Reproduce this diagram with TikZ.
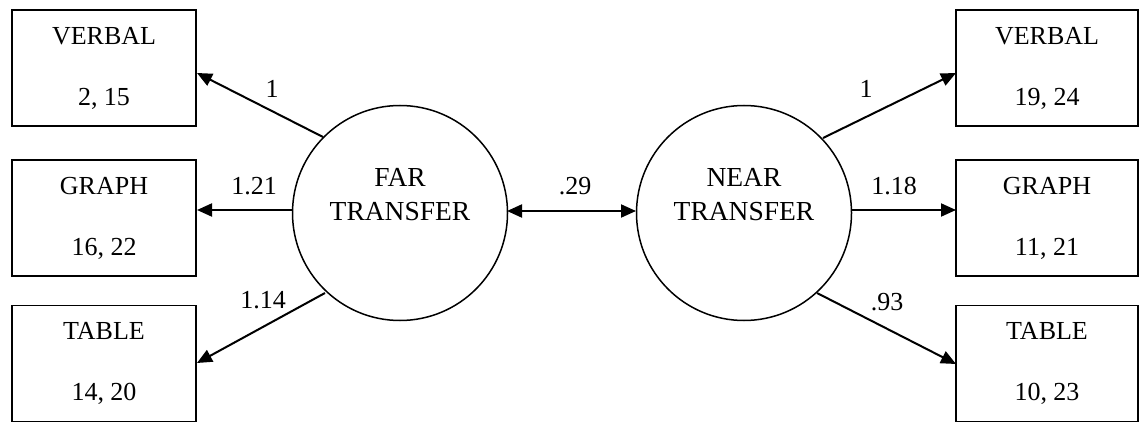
\documentclass[tikz,border=0pt]{standalone}
\usepackage{fontspec}
\setmainfont{Liberation Serif}
\usetikzlibrary{arrows.meta}
\begin{document}
\begin{tikzpicture}[x=1pt,y=-1pt,
  obsbox/.style={draw,line width=1.5pt,minimum width=184pt,minimum height=116pt,inner sep=0pt,
    align=center,font=\fontsize{26}{61}\selectfont},
  latent/.style={draw,circle,line width=1.5pt,minimum size=215pt,inner sep=0pt},
  ltxt/.style={align=center,font=\fontsize{27.5}{34}\selectfont,inner sep=0pt},
  lbl/.style={font=\fontsize{26}{30}\selectfont,inner sep=0pt},
  path/.style={line width=2pt,-{Triangle[length=15pt,width=13pt]}},
  cov/.style={line width=2pt,{Triangle[length=15pt,width=13pt]}-{Triangle[length=15pt,width=13pt]}}]
\useasboundingbox (0,0) rectangle (1139,422);
% observed boxes
\node[obsbox] (lv) at (104,68) {VERBAL\\2, 15};
\node[obsbox] (lg) at (104,218) {GRAPH\\16, 22};
\node[obsbox] (lt) at (104,363.5) {TABLE\\14, 20};
\node[obsbox,minimum width=182pt] (rv) at (1047,68) {VERBAL\\19, 24};
\node[obsbox,minimum width=182pt] (rg) at (1047,218) {GRAPH\\11, 21};
\node[obsbox,minimum width=182pt] (rt) at (1047,363.5) {TABLE\\10, 23};
% latent circles
\node[latent] (far) at (400,213) {};
\node[latent] (near) at (744,213) {};
\node[ltxt] (fartxt) at (400,195) {FAR\\TRANSFER};
\node[ltxt] (neartxt) at (744,195) {NEAR\\TRANSFER};
% endpoints
\coordinate (lva) at (197,73);
\coordinate (lga) at (197,210);
\coordinate (lta) at (197,363);
\coordinate (rva) at (956,73);
\coordinate (rga) at (956,210);
\coordinate (rta) at (956,364);
\coordinate (fs1) at (323,137);
\coordinate (fs2) at (292,210);
\coordinate (fs3) at (325,293);
\coordinate (ns1) at (823,138);
\coordinate (ns2) at (852,210);
\coordinate (ns3) at (817,293);
\coordinate (fc) at (507,211);
\coordinate (nc) at (636,211);
% paths
\draw[path] (fs1) -- (lva);
\draw[path] (fs2) -- (lga);
\draw[path] (fs3) -- (lta);
\draw[path] (ns1) -- (rva);
\draw[path] (ns2) -- (rga);
\draw[path] (ns3) -- (rta);
\draw[cov] (fc) -- (nc);
% labels
\node[lbl] (l1) at (272,89) {1};
\node[lbl] (l2) at (254,186) {1.21};
\node[lbl] (l3) at (263,300) {1.14};
\node[lbl] (l4) at (575,186) {.29};
\node[lbl] (l5) at (866,89) {1};
\node[lbl] (l6) at (894,186) {1.18};
\node[lbl] (l7) at (887,302) {.93};
\end{tikzpicture}
\end{document}
